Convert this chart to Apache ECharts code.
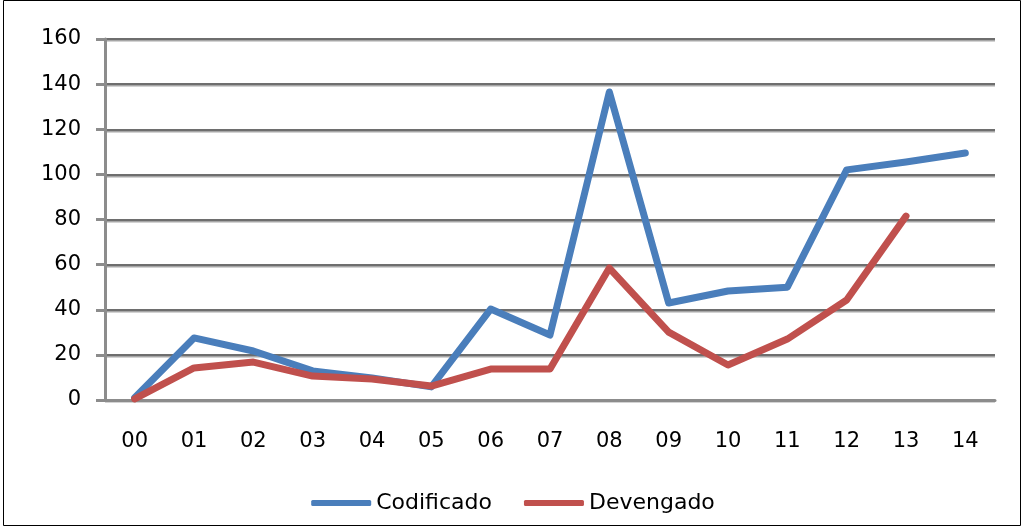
<!DOCTYPE html>
<html>
<head>
<meta charset="utf-8">
<script src="https://cdn.jsdelivr.net/npm/echarts@6/dist/echarts.min.js"></script>
<style>
html, body { margin: 0; padding: 0; background: #fff; }
#chart { width: 1026px; height: 528px; }
</style>
</head>
<body>
<div id="chart"></div>
<script>
var categories = ['00', '01', '02', '03', '04', '05', '06', '07', '08', '09', '10', '11', '12', '13', '14'];
var codificado = [1, 27.5, 21.7, 12.9, 9.8, 5.8, 40.3, 28.8, 136.5, 43, 48.3, 50, 102, 105.5, 109.5];
var devengado = [0.5, 14.2, 16.8, 10.6, 9.3, 6.2, 13.7, 13.7, 58.5, 30.1, 15.5, 27, 44.3, 81.5, null];

var fontName = 'DejaVu Sans';
var chart = echarts.init(document.getElementById('chart'));

var axisGray = '#8c8c8c';

chart.setOption({
	animation: false,
	backgroundColor: '#fff',
	grid: {
		left: 105,
		right: 31,
		top: 39,
		bottom: 128
	},
	legend: {
		bottom: 9,
		left: 'center',
		itemWidth: 60,
		itemHeight: 6,
		itemGap: 32,
		icon: 'roundRect',
		textStyle: {
			fontFamily: fontName,
			fontSize: 22,
			color: '#000'
		},
		data: ['Codificado', 'Devengado']
	},
	xAxis: {
		type: 'category',
		data: categories,
		boundaryGap: true,
		axisLine: {
			lineStyle: { color: axisGray, width: 3 }
		},
		axisTick: {
			length: 9,
			lineStyle: { color: axisGray, width: 3 }
		},
		axisLabel: {
			fontFamily: fontName,
			fontSize: 21,
			color: '#000',
			margin: 31
		}
	},
	yAxis: {
		type: 'value',
		min: 0,
		max: 160,
		interval: 20,
		axisLine: {
			show: true,
			lineStyle: { color: axisGray, width: 3 }
		},
		axisTick: {
			show: true,
			length: 9,
			lineStyle: { color: axisGray, width: 3 }
		},
		axisLabel: {
			fontFamily: fontName,
			fontSize: 21,
			color: '#000',
			margin: 24
		},
		splitLine: {
			show: true,
			lineStyle: {
				color: '#6e6e6e',
				width: 2,
				shadowColor: 'rgba(0,0,0,0.35)',
				shadowOffsetY: 1.5,
				shadowBlur: 0
			}
		}
	},
	series: [{
		name: 'Codificado',
		type: 'line',
		data: codificado,
		symbol: 'none',
		lineStyle: { color: '#4a7ebb', width: 7, cap: 'round', join: 'round' },
		itemStyle: { color: '#4a7ebb' },
		z: 3
	}, {
		name: 'Devengado',
		type: 'line',
		data: devengado,
		symbol: 'none',
		lineStyle: { color: '#c0504d', width: 7, cap: 'round', join: 'round' },
		itemStyle: { color: '#c0504d' },
		z: 4
	}],
	graphic: [{
		type: 'rect',
		shape: { x: 3.5, y: 0.5, width: 1017, height: 525 },
		style: { fill: 'none', stroke: '#000', lineWidth: 1 },
		silent: true
	}]
});
</script>
</body>
</html>
